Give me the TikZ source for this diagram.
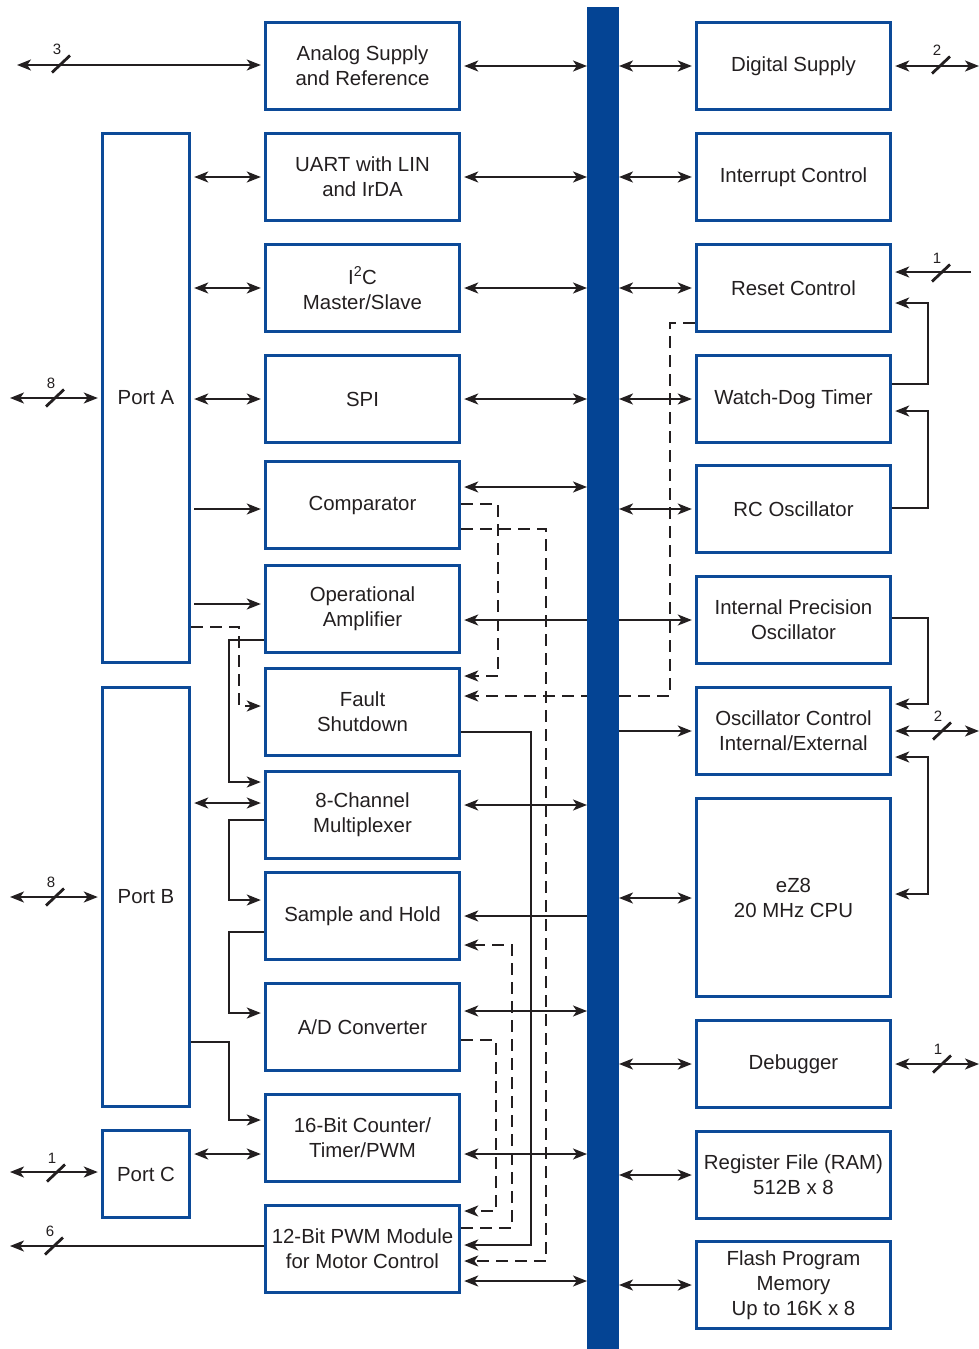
\documentclass[tikz,border=0pt]{standalone}
\usepackage{fontspec}
\setmainfont{Liberation Sans}
\usetikzlibrary{arrows.meta}
\definecolor{ink}{RGB}{35,31,32}
\definecolor{boxblue}{RGB}{12,74,152}
\definecolor{busblue}{RGB}{4,68,148}
\newcommand\wirecount[3]{%
  \draw[slashln] (#1-9,#2+8.5) -- (#1+9,#2-8.5);
  \node[numlbl] at (#1-4,#2-15) {#3};}
\begin{document}
\begin{tikzpicture}[x=1pt,y=-1pt,
  >={Stealth[length=14pt,width=11pt,inset=3.8pt]},
  ln/.style={line width=2pt, draw=ink},
  bi/.style={ln,<->},
  one/.style={ln,->},
  dsh/.style={dash pattern=on 12pt off 7pt},
  ga/.style={shorten <=3pt},
  gb/.style={shorten >=3pt},
  slashln/.style={line width=2.8pt, draw=ink},
  numlbl/.style={font=\fontsize{15}{17}\selectfont, text=ink, inner sep=0pt},
  box/.style={draw=boxblue, line width=3.4pt, minimum width=194pt, minimum height=87pt,
    inner sep=0pt, align=center, text=ink, font=\fontsize{20.4}{25}\selectfont},
  port/.style={box, minimum width=87pt}]
\useasboundingbox (0,0) rectangle (979,1349);
% bus (named first, filled last)
\node[minimum width=32pt, minimum height=1342pt, inner sep=0pt, outer sep=0pt] (bus) at (603,678) {};
% left column
\node[box] (as) at (362.5,66) {Analog Supply\\and Reference};
\node[box] (ua) at (362.5,177) {UART with LIN\\and IrDA};
\node[box] (i2) at (362.5,288) {I\textsuperscript{2}C\\Master/Slave};
\node[box] (sp) at (362.5,399) {SPI};
\node[box] (co) at (362.5,505) {Comparator};
\node[box] (oa) at (362.5,609) {Operational\\Amplifier};
\node[box] (fs) at (362.5,712) {Fault\\Shutdown};
\node[box] (mx) at (362.5,815) {8-Channel\\Multiplexer};
\node[box] (sh) at (362.5,916) {Sample and Hold};
\node[box] (ad) at (362.5,1027) {A/D Converter};
\node[box] (ct) at (362.5,1138) {16-Bit Counter/\\Timer/PWM};
\node[box] (pw) at (362.5,1249) {12-Bit PWM Module\\for Motor Control};
% right column
\node[box] (ds) at (793.5,66) {Digital Supply};
\node[box] (ic) at (793.5,177) {Interrupt Control};
\node[box] (rs) at (793.5,288) {Reset Control};
\node[box] (wd) at (793.5,399) {Watch-Dog Timer};
\node[box] (rc) at (793.5,509) {RC Oscillator};
\node[box] (ip) at (793.5,620) {Internal Precision\\Oscillator};
\node[box] (oc) at (793.5,731) {Oscillator Control\\Internal/External};
\node[box, minimum height=198pt] (cpu) at (793.5,897.5) {eZ8\\20 MHz CPU};
\node[box] (db) at (793.5,1064) {Debugger};
\node[box] (rf) at (793.5,1175) {Register File (RAM)\\512B x 8};
\node[box] (fl) at (793.5,1285) {Flash Program\\Memory\\Up to 16K x 8};
% ports
\node[port, minimum height=529pt] (pa) at (146,398) {Port A};
\node[port, minimum height=419pt] (pb) at (146,897) {Port B};
\node[port] (pc) at (146,1174) {Port C};
% free ends
\coordinate (L1) at (17,65);
\coordinate (L2) at (10,398);
\coordinate (L3) at (10,897);
\coordinate (L4) at (10,1172);
\coordinate (L5) at (10,1246);
\coordinate (R1) at (979,66);
\coordinate (R2) at (971,272);
\coordinate (R3) at (979,731);
\coordinate (R4) at (979,1064);
% row 1
\draw[bi,gb] (L1) -- (as.west |- L1);
\wirecount{61}{64}{3}
\draw[bi,ga] (as.east |- 0,66) -- (bus.west |- 0,66);
\draw[bi,gb] (bus.east |- 0,66) -- (ds.west |- 0,66);
\draw[bi,ga] (ds.east |- R1) -- (R1);
\wirecount{941}{65}{2}
% UART row
\draw[bi,ga,gb] (pa.east |- ua.west) -- (ua.west);
\draw[bi,ga] (ua.east) -- (bus.west |- ua.east);
\draw[bi,gb] (bus.east |- ic.west) -- (ic.west);
% I2C row
\draw[bi,ga,gb] (pa.east |- i2.west) -- (i2.west);
\draw[bi,ga] (i2.east) -- (bus.west |- i2.east);
\draw[bi,gb] (bus.east |- rs.west) -- (rs.west);
% reset extras
\draw[one,gb] (R2) -- (rs.east |- R2);
\wirecount{941}{273}{1}
\draw[one,gb] (wd.east |- 0,384) -| (928,303) -- (rs.east |- 0,303);
% SPI row
\draw[bi,gb] (L2) -- (pa.west |- L2);
\wirecount{55}{398}{8}
\draw[bi,ga,gb] (pa.east |- sp.west) -- (sp.west);
\draw[bi,ga] (sp.east) -- (bus.west |- sp.east);
\draw[bi,gb] (bus.east |- wd.west) -- (wd.west);
\draw[one,gb] (rc.east |- 0,508) -| (928,411) -- (wd.east |- 0,411);
% comparator row
\draw[one,ga,gb] (pa.east |- 0,509) -- (co.west |- 0,509);
\draw[bi,ga] (co.east |- 0,487) -- (bus.west |- 0,487);
\draw[bi,gb] (bus.east |- rc.west) -- (rc.west);
\draw[one,dsh,gb] (co.east |- 0,504) -| (498,676) -- (fs.east |- 0,676);
\draw[one,dsh,gb] (co.east |- 0,529) -| (546,1261) -- (pw.east |- 0,1261);
% op amp
\draw[one,ga,gb] (pa.east |- 0,604) -- (oa.west |- 0,604);
\draw[one,gb] (bus.west |- 0,620) -- (oa.east |- 0,620);
\draw[one,gb] (bus.east |- 0,620) -- (ip.west |- 0,620);
\draw[one,dsh,gb] (pa.east |- 0,627) -| (239,706) -- (fs.west |- 0,706);
\draw[one,gb] (oa.west |- 0,640) -| (229,782) -- (mx.west |- 0,782);
% fault
\draw[one,dsh,gb] (rs.west |- 0,323) -| (670,696) -- (fs.east |- 0,696);
\draw[one,gb] (fs.east |- 0,732) -| (531,1245) -- (pw.east |- 0,1245);
% oscillator control
\draw[one,gb] (bus.east |- oc.west) -- (oc.west);
\draw[one,gb] (ip.east |- 0,618) -| (928,704) -- (oc.east |- 0,704);
\draw[bi,ga] (oc.east) -- (R3);
\wirecount{942}{731}{2}
\draw[bi,ga,gb] (oc.east |- 0,757) -| (928,894) -- (cpu.east |- 0,894);
% multiplexer
\draw[bi,ga,gb] (pb.east |- 0,803) -- (mx.west |- 0,803);
\draw[bi,ga] (mx.east |- 0,805) -- (bus.west |- 0,805);
\draw[one,gb] (mx.west |- 0,820) -| (229,900) -- (sh.west |- 0,900);
% port B
\draw[bi,gb] (L3) -- (pb.west |- L3);
\wirecount{55}{897}{8}
% sample and hold
\draw[one,gb] (bus.west |- sh.east) -- (sh.east);
\draw[bi,gb] (bus.east |- 0,898) -- (cpu.west |- 0,898);
\draw[one,dsh,gb] (pw.east |- 0,1228) -| (512,945) -- (sh.east |- 0,945);
\draw[one,gb] (sh.west |- 0,932) -| (229,1013) -- (ad.west |- 0,1013);
% A/D
\draw[bi,ga] (ad.east |- 0,1011) -- (bus.west |- 0,1011);
\draw[one,dsh,gb] (ad.east |- 0,1040) -| (496,1211) -- (pw.east |- 0,1211);
\draw[one,gb] (pb.east |- 0,1042) -| (229,1120) -- (ct.west |- 0,1120);
% debugger
\draw[bi,gb] (bus.east |- db.west) -- (db.west);
\draw[bi,ga] (db.east) -- (R4);
\wirecount{942}{1064}{1}
% counter
\draw[bi,ga,gb] (pc.east |- 0,1154) -- (ct.west |- 0,1154);
\draw[bi,ga] (ct.east |- 0,1154) -- (bus.west |- 0,1154);
\draw[bi,gb] (L4) -- (pc.west |- L4);
\wirecount{56}{1173}{1}
\draw[bi,gb] (bus.east |- rf.west) -- (rf.west);
% PWM
\draw[one] (pw.west |- L5) -- (L5);
\wirecount{54}{1246}{6}
\draw[bi,ga] (pw.east |- 0,1281) -- (bus.west |- 0,1281);
\draw[bi,gb] (bus.east |- 0,1285) -- (fl.west |- 0,1285);
% bus on top
\fill[busblue] (bus.north west) rectangle (bus.south east);
\end{tikzpicture}
\end{document}
